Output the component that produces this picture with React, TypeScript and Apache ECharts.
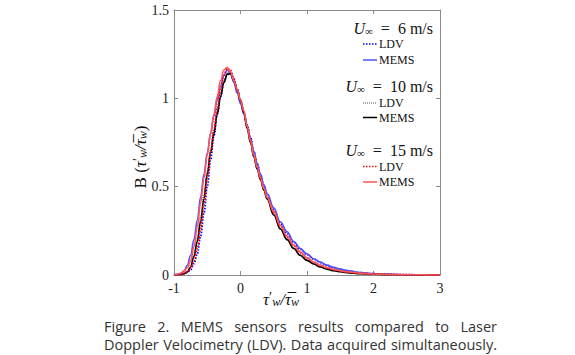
import React, { useEffect, useRef } from "react";
import * as echarts from "echarts";

// ---- data ----
const X = [-1, -0.95, -0.9, -0.85, -0.8, -0.75, -0.7, -0.65, -0.6, -0.55, -0.5, -0.45, -0.4, -0.35, -0.3, -0.25, -0.2, -0.15, -0.1, -0.05,
  0, 0.05, 0.1, 0.15, 0.2, 0.25, 0.3, 0.35, 0.4,
  0.5, 0.6, 0.7, 0.8, 0.9, 1.0, 1.1, 1.2, 1.3, 1.4, 1.5, 1.6,
  1.8, 2.0, 2.2, 2.5, 2.8, 3.0];

const LDV_6 = [0, 0.001, 0.003, 0.007, 0.015, 0.03, 0.065, 0.12, 0.22, 0.35, 0.50, 0.65, 0.79, 0.91, 1.01, 1.09, 1.14, 1.15, 1.11, 1.05,
  0.98, 0.92, 0.85, 0.78, 0.70, 0.63, 0.57, 0.51, 0.46,
  0.37, 0.29, 0.235, 0.185, 0.145, 0.115, 0.09, 0.07, 0.054, 0.041, 0.031, 0.024,
  0.013, 0.007, 0.004, 0.0015, 0.0005, 0];
const MEMS_6 = [0.002, 0.005, 0.01, 0.022, 0.055, 0.11, 0.2, 0.31, 0.44, 0.57, 0.69, 0.80, 0.90, 0.99, 1.07, 1.13, 1.16, 1.14, 1.09, 1.03,
  0.97, 0.91, 0.84, 0.77, 0.70, 0.63, 0.57, 0.51, 0.46,
  0.38, 0.30, 0.245, 0.19, 0.15, 0.12, 0.092, 0.073, 0.056, 0.043, 0.033, 0.025,
  0.014, 0.008, 0.004, 0.0015, 0.0005, 0];
const LDV_10 = [0, 0.002, 0.005, 0.01, 0.02, 0.055, 0.12, 0.21, 0.33, 0.46, 0.59, 0.71, 0.82, 0.93, 1.03, 1.10, 1.14, 1.135, 1.10, 1.045,
  0.985, 0.92, 0.83, 0.75, 0.67, 0.60, 0.54, 0.485, 0.435,
  0.345, 0.265, 0.205, 0.155, 0.115, 0.087, 0.065, 0.048, 0.035, 0.026, 0.019, 0.014,
  0.008, 0.004, 0.002, 0.001, 0.0003, 0];
const MEMS_10 = [0, 0.001, 0.004, 0.008, 0.016, 0.045, 0.105, 0.19, 0.30, 0.43, 0.57, 0.69, 0.80, 0.91, 1.01, 1.09, 1.135, 1.14, 1.10, 1.05,
  0.99, 0.92, 0.83, 0.75, 0.67, 0.60, 0.54, 0.48, 0.43,
  0.34, 0.26, 0.20, 0.15, 0.11, 0.083, 0.062, 0.045, 0.033, 0.024, 0.018, 0.013,
  0.007, 0.004, 0.002, 0.001, 0.0003, 0];
const LDV_15 = [0, 0.001, 0.003, 0.008, 0.018, 0.04, 0.08, 0.15, 0.26, 0.40, 0.55, 0.69, 0.82, 0.94, 1.05, 1.13, 1.17, 1.16, 1.11, 1.05,
  0.99, 0.92, 0.84, 0.76, 0.68, 0.61, 0.55, 0.49, 0.44,
  0.355, 0.275, 0.215, 0.165, 0.125, 0.095, 0.072, 0.054, 0.041, 0.031, 0.023, 0.017,
  0.01, 0.006, 0.003, 0.0015, 0.0005, 0];
const MEMS_15 = [0, 0.003, 0.01, 0.022, 0.04, 0.08, 0.16, 0.27, 0.41, 0.55, 0.68, 0.80, 0.91, 1.01, 1.10, 1.16, 1.175, 1.15, 1.10, 1.05,
  0.99, 0.93, 0.84, 0.76, 0.68, 0.61, 0.55, 0.49, 0.44,
  0.36, 0.28, 0.22, 0.17, 0.13, 0.098, 0.074, 0.055, 0.042, 0.032, 0.024, 0.018,
  0.01, 0.006, 0.003, 0.0015, 0.0005, 0];

const X_TICKS = [-1, 0, 1, 2, 3];
const Y_TICKS = [0, 0.5, 1, 1.5];

const SPEED_LABELS = ["6", "10", "15"];
const CAPTION_LINES = [
  "Figure 2. MEMS sensors results compared to Laser",
  "Doppler Velocimetry (LDV). Data acquired simultaneously.",
];

const SERIF = "'Liberation Serif', 'DejaVu Serif', serif";
const CAP_SIZE = 14.5;
const CAP_FONT = `${CAP_SIZE}px 'Open Sans'`;

const pairs = (ys: number[]) => X.map((x, i) => [x, ys[i]]);

export default function App() {
  const ref = useRef<HTMLDivElement>(null);
  useEffect(() => {
    if (!ref.current) return;
    const chart = echarts.init(ref.current, null, { renderer: "svg" });

    const groups = [
      { label: SPEED_LABELS[0], ldv: "#0000ff", mems: "#5050ff", ldvDash: [1.5, 1.5], ldvW: 1.6, ty: 28, ly: 44, my: 60 },
      { label: SPEED_LABELS[1], ldv: "#555555", mems: "#000000", ldvDash: [1, 1], ldvW: 1, ty: 86, ly: 103, my: 117.5 },
      { label: SPEED_LABELS[2], ldv: "#ff0000", mems: "#ff5555", ldvDash: [1.5, 1.5], ldvW: 1.6, ty: 150, ly: 166.5, my: 182 },
    ];

    const graphics: any[] = [];
    groups.forEach((g) => {
      graphics.push({
        type: "text", x: 433, y: g.ty,
        style: {
          text: `{u|U}{s|∞}  =  ${g.label} m/s`,
          font: `16px ${SERIF}`, fill: "#111", align: "right", verticalAlign: "middle",
          rich: {
            u: { fontStyle: "italic", fontSize: 16, fontFamily: SERIF, fill: "#111" },
            s: { fontSize: 11, fontFamily: SERIF, fill: "#111", verticalAlign: "bottom", padding: [6, 0, 0, 0] },
          },
        },
      });
      graphics.push({ type: "line", shape: { x1: 363, y1: g.ly, x2: 377, y2: g.ly }, style: { stroke: g.ldv, lineWidth: g.ldvW, lineDash: g.ldvDash } });
      graphics.push({ type: "line", shape: { x1: 363, y1: g.my, x2: 377, y2: g.my }, style: { stroke: g.mems, lineWidth: 1.5 } });
      graphics.push({ type: "text", x: 379, y: g.ly, style: { text: "LDV", font: `12px ${SERIF}`, fill: "#111", align: "left", verticalAlign: "middle" } });
      graphics.push({ type: "text", x: 379, y: g.my, style: { text: "MEMS", font: `12px ${SERIF}`, fill: "#111", align: "left", verticalAlign: "middle" } });
    });

    const mathRich = (fs: number) => ({
      i: { fontStyle: "italic", fontSize: fs, fontFamily: SERIF, fill: "#111" },
      p: { fontSize: fs - 3, fontFamily: SERIF, fill: "#111", verticalAlign: "top" },
      w: { fontStyle: "italic", fontSize: fs - 5, fontFamily: SERIF, fill: "#111", verticalAlign: "bottom" },
    });

    // y-axis title
    graphics.push({
      type: "text", x: 140, y: 157, rotation: Math.PI / 2,
      style: {
        text: "B ({i|τ}{p|′}{w|w}{i|/}{i|τ̅}{w|w})",
        font: `17px ${SERIF}`, fill: "#111", align: "center", verticalAlign: "middle",
        rich: mathRich(17),
      },
    });
    // x-axis title
    graphics.push({
      type: "text", x: 281, y: 299,
      style: {
        text: "{i|τ}{p|′}{w|w}{i|/}{i|τ̅}{w|w}",
        font: `17px ${SERIF}`, fill: "#111", align: "center", verticalAlign: "middle",
        rich: mathRich(17),
      },
    });

    // caption, justified between 104 and 497
    const ctx = document.createElement("canvas").getContext("2d")!;
    ctx.font = CAP_FONT;
    const left = 104, right = 497;
    const capY = [326, 344.5];
    CAPTION_LINES.forEach((line, li) => {
      const words = line.split(" ");
      const widths = words.map((w) => ctx.measureText(w).width);
      const total = widths.reduce((a, b) => a + b, 0);
      const gap = Math.max(3, (right - left - total) / (words.length - 1));
      let cx = left;
      words.forEach((w, wi) => {
        graphics.push({
          type: "text", x: cx, y: capY[li],
          style: { text: w, font: CAP_FONT, lineHeight: 16, fill: "#333", align: "left", verticalAlign: "middle" },
        });
        cx += widths[wi] + gap;
      });
    });

    const axisCommon = {
      axisLine: { show: true, onZero: false, lineStyle: { color: "#8a8a8a", width: 1 } },
      axisTick: { show: true, inside: true, length: 4, lineStyle: { color: "#8a8a8a" } },
      splitLine: { show: false },
    };
    const labelStyle = { fontFamily: SERIF, fontSize: 14, color: "#222" };

    const option: any = {
      animation: false,
      backgroundColor: "#ffffff",
      grid: { left: 174, top: 10, right: 135, bottom: 80, containLabel: false },
      xAxis: [
        { type: "value", min: X_TICKS[0], max: X_TICKS[X_TICKS.length - 1], interval: 1, position: "bottom", ...axisCommon, axisLabel: { ...labelStyle, margin: 6 } },
        { type: "value", min: X_TICKS[0], max: X_TICKS[X_TICKS.length - 1], interval: 1, position: "top", ...axisCommon, axisLabel: { show: false } },
      ],
      yAxis: [
        { type: "value", min: Y_TICKS[0], max: Y_TICKS[Y_TICKS.length - 1], interval: 0.5, position: "left", ...axisCommon, axisLabel: { ...labelStyle, margin: 5 } },
        { type: "value", min: Y_TICKS[0], max: Y_TICKS[Y_TICKS.length - 1], interval: 0.5, position: "right", ...axisCommon, axisLabel: { show: false } },
      ],
      series: [
        { name: "LDV 6", data: pairs(LDV_6), color: "#0000ff", lineStyle: { width: 1.8, type: [1.5, 1.5], color: "#0000ff" } },
        { name: "MEMS 6", data: pairs(MEMS_6), color: "#5050ff", lineStyle: { width: 1.6, color: "#5050ff" } },
        { name: "LDV 10", data: pairs(LDV_10), color: "#555", lineStyle: { width: 1, type: [1, 1], color: "#555" } },
        { name: "MEMS 10", data: pairs(MEMS_10), color: "#000", lineStyle: { width: 1.6, color: "#000" } },
        { name: "LDV 15", data: pairs(LDV_15), color: "#ff0000", lineStyle: { width: 1.8, type: [1.5, 1.5], color: "#ff0000" } },
        { name: "MEMS 15", data: pairs(MEMS_15), color: "#ff5555", lineStyle: { width: 1.6, color: "#ff5555" } },
      ].map((s) => ({ type: "line", showSymbol: false, smooth: 0.4, smoothMonotone: "x", silent: true, ...s })),
      graphic: graphics,
    };
    chart.setOption(option);
    return () => chart.dispose();
  }, []);
  return <div ref={ref} style={{ position: "fixed", left: 0, top: 0, width: 575, height: 355, background: "#fff" }} />;
}
